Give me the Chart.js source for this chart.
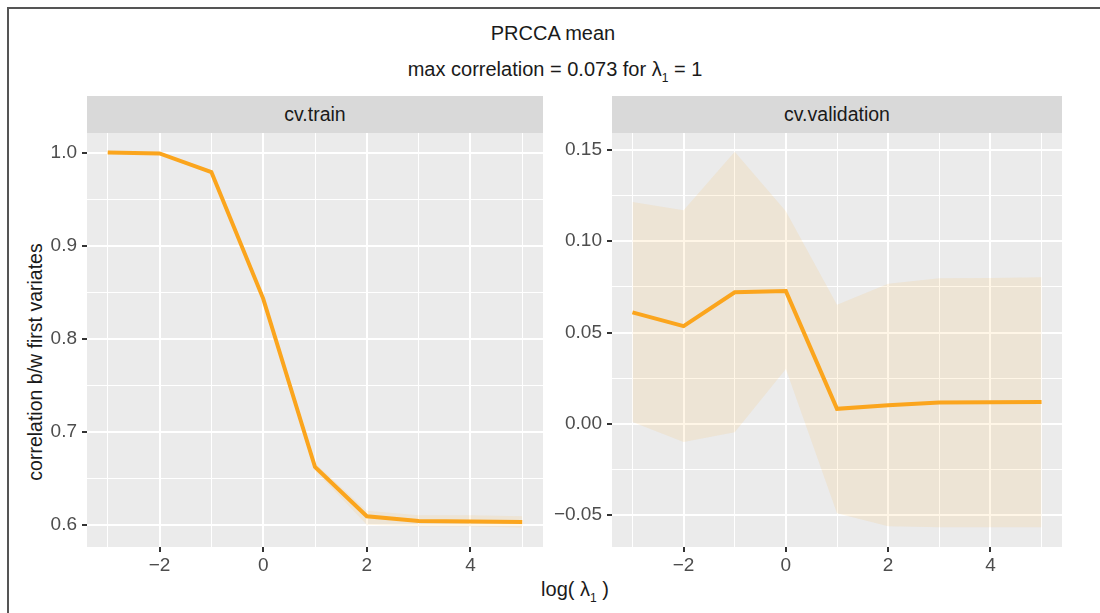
<!DOCTYPE html>
<html>
<head>
<meta charset="utf-8">
<script src="https://cdn.jsdelivr.net/npm/chart.js@4"></script>
<style>
  body { margin: 0; background: #fff; font-family: "Liberation Sans", Arial, sans-serif; }
  #page { position: relative; width: 1100px; height: 613px; overflow: hidden; }
  .frame { position: absolute; left: 7px; top: 7px; width: 1200px; height: 700px;
           border-left: 2px solid #555; border-top: 2px solid #555; }
  .txt { position: absolute; color: #1a1a1a; font-size: 20px; white-space: nowrap; transform: translate(-50%, -50%); }
  .strip { position: absolute; top: 96px; height: 37px; background: #d9d9d9; color: #1a1a1a;
           font-size: 19.5px; line-height: 37px; text-align: center; }
  sub { font-size: 12px; vertical-align: -6px; }
  canvas { position: absolute; }
</style>
</head>
<body>
<div id="page">
  <div class="frame"></div>
  <div class="txt" style="left:553px; top:33px;">PRCCA mean</div>
  <div class="txt" style="left:555px; top:71px;">max correlation = 0.073 for λ<sub>1</sub> = 1</div>
  <div class="strip" style="left:87px; width:456px;">cv.train</div>
  <div class="strip" style="left:612px; width:450px;">cv.validation</div>
  <div class="txt" style="left:35px; top:362px; font-size:19.5px; transform: translate(-50%, -50%) rotate(-90deg);">correlation b/w first variates</div>
  <div class="txt" style="left:575px; top:591px;">log( λ<sub>1</sub> )</div>
  <canvas id="trainChart" width="510" height="460" style="left:40px; top:120px;"></canvas>
  <canvas id="validChart" width="520" height="460" style="left:550px; top:120px;"></canvas>
</div>
<script>
// log(lambda_1) values
const logLambda = [-3, -2, -1, 0, 1, 2, 3, 4, 5];

// cv.train: mean correlation and ribbon bounds
const trainMean  = [1.000, 0.999, 0.979, 0.843, 0.662, 0.609, 0.604, 0.6035, 0.603];
const trainLower = [0.999, 0.998, 0.977, 0.840, 0.658, 0.600, 0.598, 0.598, 0.597];
const trainUpper = [1.001, 1.000, 0.981, 0.846, 0.666, 0.615, 0.610, 0.610, 0.609];

// cv.validation: mean correlation and ribbon bounds
const validMean  = [0.061, 0.0535, 0.072, 0.0727, 0.0082, 0.0101, 0.0117, 0.0118, 0.012];
const validLower = [0.001, -0.010, -0.0046, 0.030, -0.049, -0.0562, -0.0567, -0.0567, -0.0567];
const validUpper = [0.1215, 0.117, 0.149, 0.1164, 0.0652, 0.0767, 0.0797, 0.0799, 0.0803];

// axis limits
const xLimits = [-3.4, 5.4];
const trainYLimits = [0.576, 1.021];
const validYLimits = [-0.0675, 0.1593];

Chart.defaults.font.family = '"Liberation Sans", Arial, sans-serif';
Chart.defaults.font.size = 19;
Chart.defaults.color = '#4d4d4d';

function toPoints(values) {
    return logLambda.map((x, i) => ({ x: x, y: values[i] }));
}

function minus(str) {
    return str.replace('-', '\u2212');
}

// grey panel background behind the grid
const panelBackground = {
    id: 'panelBackground',
    beforeDraw(chart) {
        const a = chart.chartArea;
        const ctx = chart.ctx;
        ctx.save();
        ctx.fillStyle = '#ebebeb';
        ctx.fillRect(a.left, a.top, a.right - a.left, a.bottom - a.top);
        ctx.restore();
    }
};

function makeChart(canvasId, mean, lower, upper, yLimits, yStep, isMajorY, yLabel, yWidth, padRight) {
    const ctx = document.getElementById(canvasId).getContext('2d');
    return new Chart(ctx, {
        type: 'line',
        data: {
            datasets: [
                {
                    data: toPoints(lower),
                    borderColor: 'rgba(0,0,0,0)',
                    borderWidth: 0,
                    pointRadius: 0,
                    fill: false,
                    order: 2
                },
                {
                    data: toPoints(upper),
                    borderColor: 'rgba(0,0,0,0)',
                    borderWidth: 0,
                    pointRadius: 0,
                    backgroundColor: 'rgba(255, 170, 40, 0.11)',
                    fill: '-1',
                    order: 1
                },
                {
                    data: toPoints(mean),
                    borderColor: '#fba51d',
                    borderWidth: 4,
                    pointRadius: 0,
                    fill: false,
                    tension: 0,
                    order: 0
                }
            ]
        },
        options: {
            responsive: false,
            animation: false,
            layout: { padding: { top: 13, right: padRight, left: 0, bottom: 0 } },
            plugins: {
                legend: { display: false },
                tooltip: { enabled: false }
            },
            scales: {
                x: {
                    type: 'linear',
                    min: xLimits[0],
                    max: xLimits[1],
                    border: { display: false },
                    grid: {
                        color: '#ffffff',
                        lineWidth: c => (Math.round(c.tick.value) % 2 === 0 ? 2 : 1),
                        tickColor: c => (Math.round(c.tick.value) % 2 === 0 ? '#333333' : 'rgba(0,0,0,0)'),
                        tickWidth: 2,
                        tickLength: 5
                    },
                    ticks: {
                        stepSize: 1,
                        includeBounds: false,
                        autoSkip: false,
                        maxRotation: 0,
                        padding: 2,
                        callback: v => (Math.round(v) % 2 === 0 ? minus(String(Math.round(v))) : '')
                    },
                    afterFit: s => { s.height = 33; s.paddingLeft = 0; s.paddingRight = 0; }
                },
                y: {
                    type: 'linear',
                    min: yLimits[0],
                    max: yLimits[1],
                    border: { display: false },
                    grid: {
                        color: '#ffffff',
                        lineWidth: c => (isMajorY(c.tick.value) ? 2 : 1),
                        tickColor: c => (isMajorY(c.tick.value) ? '#333333' : 'rgba(0,0,0,0)'),
                        tickWidth: 2,
                        tickLength: 5
                    },
                    ticks: {
                        stepSize: yStep,
                        includeBounds: false,
                        autoSkip: false,
                        padding: 5,
                        callback: v => (isMajorY(v) ? minus(yLabel(v)) : '')
                    },
                    afterFit: s => { s.width = yWidth; s.paddingTop = 0; s.paddingBottom = 0; }
                }
            }
        },
        plugins: [panelBackground]
    });
}

makeChart('trainChart', trainMean, trainLower, trainUpper, trainYLimits, 0.05,
    v => Math.round(v * 20) % 2 === 0,
    v => v.toFixed(1), 47, 7);

makeChart('validChart', validMean, validLower, validUpper, validYLimits, 0.025,
    v => Math.round(v * 40) % 2 === 0,
    v => (Math.abs(v) < 1e-9 ? '0.00' : v.toFixed(2)), 62, 8);
</script>
</body>
</html>
